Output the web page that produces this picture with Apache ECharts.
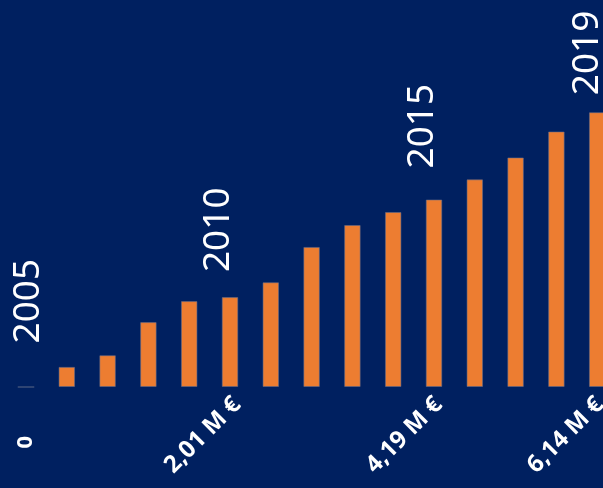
<!DOCTYPE html>
<html>
<head>
<meta charset="utf-8">
<script src="https://cdn.jsdelivr.net/npm/echarts@6/dist/echarts.min.js"></script>
<style>
html,body{margin:0;padding:0;background:#002060;overflow:hidden;}
#c{width:620px;height:488px;}
</style>
</head>
<body>
<div id="c"></div>
<script>
// Data
var years = ['2005','2006','2007','2008','2009','2010','2011','2012','2013','2014','2015','2016','2017','2018','2019'];
var values = [0, 0.45, 0.71, 1.45, 1.92, 2.01, 2.34, 3.13, 3.62, 3.91, 4.19, 4.64, 5.13, 5.71, 6.14];
// year labels shown above these bars
var shownYears = ['2005', '2010', '2015', '2019'];
// tick labels under the bars
var amountLabels = ['', '', '', '', '', '2,01 M €', '', '', '', '', '4,19 M €', '', '', '', '6,14 M €'];
var zeroLabels = ['0', '', '', '', '', '', '', '', '', '', '', '', '', '', ''];

var labelDist = {'2005': 43, '2010': 25, '2015': 31, '2019': 17};
var labelDx = {'2005': 2, '2010': -12, '2015': -12, '2019': -10};

var seriesData = values.map(function (v, i) {
  var y = years[i];
  var item = { value: v };
  if (shownYears.indexOf(y) >= 0) {
    item.label = {
      show: true,
      position: 'top',
      rotate: 90,
      align: 'left',
      verticalAlign: 'middle',
      distance: labelDist[y],
      offset: [0, labelDx[y]],
      formatter: y,
      color: '#ffffff',
      fontFamily: 'Noto Sans',
      fontSize: 37
    };
  }
  return item;
});

var chart = echarts.init(document.getElementById('c'));
var gridL = 5.6, gridW = 612;
chart.setOption({
  backgroundColor: '#002060',
  animation: false,
  grid: [
    { left: gridL, width: gridW, top: 29, bottom: 101 },
    { left: gridL + 10, width: gridW, top: 29, bottom: 101 }
  ],
  xAxis: [
    {
      type: 'category', gridIndex: 0, data: years,
      axisLine: { show: false }, axisTick: { show: false },
      axisLabel: {
        interval: 0, rotate: 90, margin: 49,
        color: '#ffffff', fontWeight: 'bold', fontSize: 22, fontFamily: 'Open Sans',
        formatter: function (v, i) { return zeroLabels[i]; }
      }
    },
    {
      type: 'category', gridIndex: 1, data: years,
      axisLine: { show: false }, axisTick: { show: false },
      axisLabel: {
        interval: 0, rotate: 45, margin: 14,
        color: '#ffffff', fontWeight: 'bold', fontSize: 24, fontFamily: 'Open Sans',
        formatter: function (v, i) { return amountLabels[i]; }
      }
    }
  ],
  yAxis: [
    { type: 'value', gridIndex: 0, min: 0, max: 8, show: false, splitLine: { show: false } },
    { type: 'value', gridIndex: 1, min: 0, max: 8, show: false, splitLine: { show: false } }
  ],
  series: [{
    type: 'bar',
    xAxisIndex: 0, yAxisIndex: 0,
    data: seriesData,
    barWidth: 16.5,
    itemStyle: {
      color: '#ED7D31',
      borderColor: 'rgba(100,110,140,0.55)',
      borderWidth: 1
    }
  }]
});
</script>
</body>
</html>
